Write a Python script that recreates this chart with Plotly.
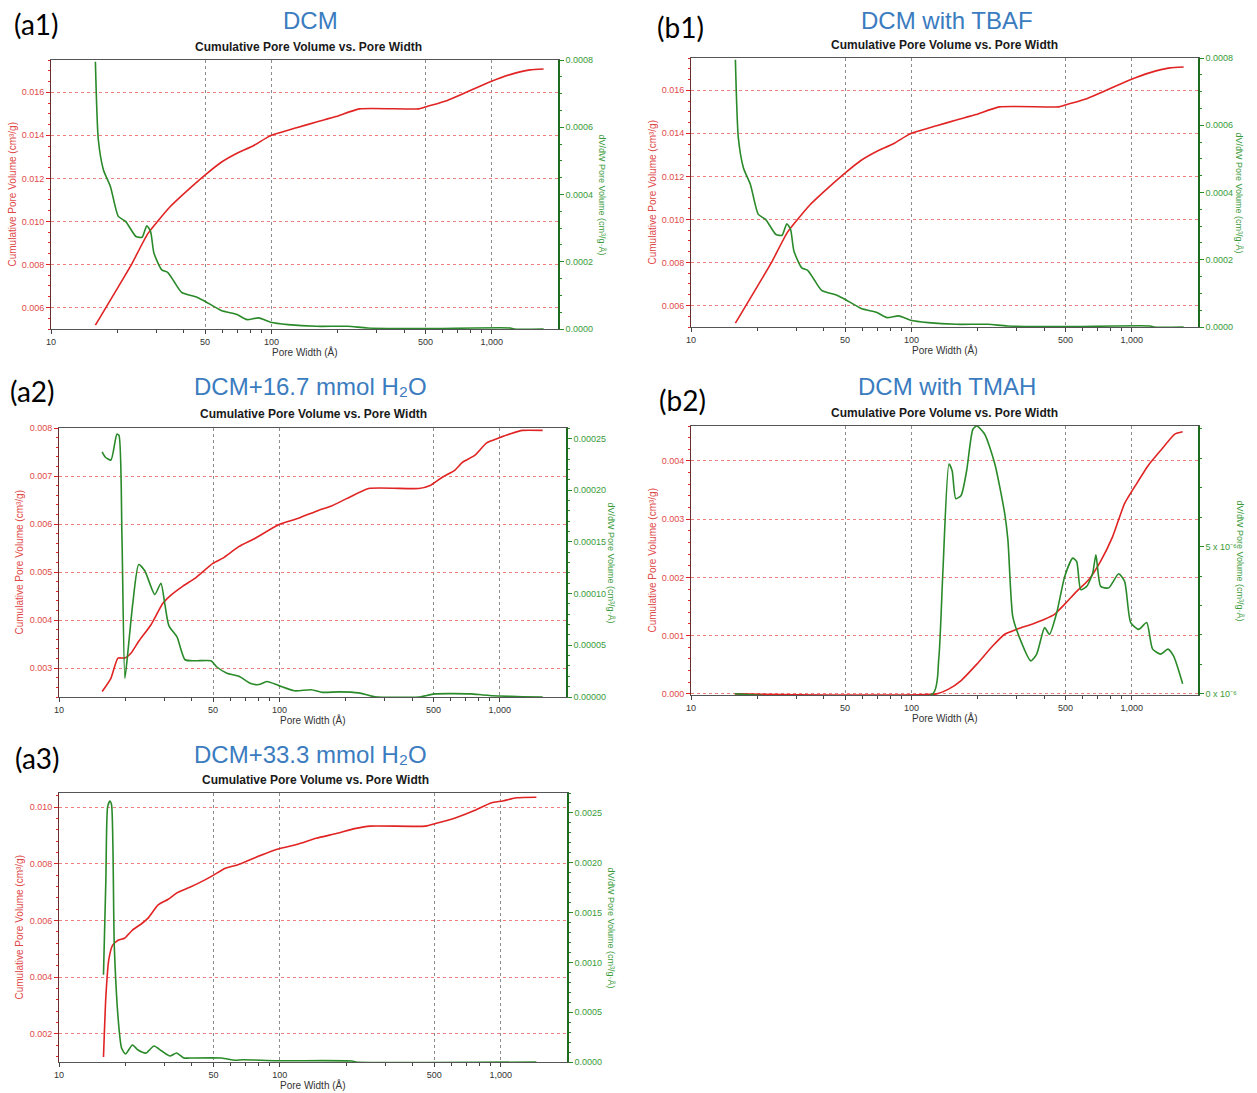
import plotly.graph_objects as go

# ---------------- data ----------------
x_tick_vals = [10, 50, 100, 500, 1000]
x_tick_text = ["10", "50", "100", "500", "1,000"]
x_minor_vals = [20, 30, 40, 60, 70, 80, 90, 200, 300, 400, 600, 700, 800, 900]

panel_titles = ["DCM", "DCM with TBAF", "DCM+16.7 mmol H₂O", "DCM with TMAH", "DCM+33.3 mmol H₂O"]
panel_labels = ["(a1)", "(b1)", "(a2)", "(b2)", "(a3)"]
subtitle = "Cumulative Pore Volume vs. Pore Width"
x_title = "Pore Width (Å)"
left_title = "Cumulative Pore Volume (cm³/g)"
right_title = "dV/dW Pore Volume (cm³/g·Å)"

# (a1) DCM
a1_red_w = [15.9, 20.2, 23.3, 27.5, 34.6, 40.8, 49.8, 59.2, 69.8, 82.4, 97.1, 105, 130, 160, 196, 251, 468, 508, 624, 767, 984, 1211, 1487, 1717]
a1_red_v = [0.00518, 0.00696, 0.00804, 0.00943, 0.01067, 0.01136, 0.01214, 0.01275, 0.01317, 0.0135, 0.01394, 0.01407, 0.01435, 0.01462, 0.01487, 0.01523, 0.01523, 0.01534, 0.01561, 0.0160, 0.01649, 0.01682, 0.01704, 0.01708]
a1_green_w = [15.9, 16.4, 17.3, 18.6, 20.2, 21.8, 24.3, 25.9, 27.2, 28.3, 29.3, 31.8, 33.9, 36.1, 39.1, 46.1, 50.1, 59.2, 69.8, 77.4, 87.7, 99.1, 119, 160, 222, 273, 488, 1210, 1260, 1717]
a1_green_v = [0.000795, 0.000562, 0.000473, 0.000424, 0.000335, 0.00032, 0.000275, 0.000273, 0.000307, 0.00029, 0.000226, 0.000176, 0.000168, 0.000142, 0.000109, 0.000094, 0.000082, 0.000055, 0.000043, 0.000028, 0.000033, 0.00002, 0.000013, 0.000008, 0.000008, 0.000003, 0.000001, 0.000003, 0.0, 0.0]

# (b1) DCM with TBAF
b1_red_w = [15.9, 20.2, 23.3, 27.5, 34.6, 40.8, 49.8, 59.2, 69.8, 82.4, 97.1, 105, 130, 160, 196, 251, 468, 508, 624, 767, 984, 1211, 1487, 1717]
b1_red_v = [0.00518, 0.00696, 0.00804, 0.00943, 0.01067, 0.01136, 0.01214, 0.01275, 0.01317, 0.0135, 0.01394, 0.01407, 0.01435, 0.01462, 0.01487, 0.01523, 0.01523, 0.01534, 0.01561, 0.0160, 0.01649, 0.01682, 0.01704, 0.01708]
b1_green_w = [15.9, 16.4, 17.3, 18.6, 20.2, 21.8, 24.3, 25.9, 27.2, 28.3, 29.3, 31.8, 33.9, 36.1, 39.1, 46.1, 50.1, 59.2, 69.8, 77.4, 87.7, 99.1, 119, 160, 222, 273, 488, 1210, 1260, 1717]
b1_green_v = [0.000795, 0.000562, 0.000473, 0.000424, 0.000335, 0.00032, 0.000275, 0.000273, 0.000307, 0.00029, 0.000226, 0.000176, 0.000168, 0.000142, 0.000109, 0.000094, 0.000082, 0.000055, 0.000043, 0.000028, 0.000033, 0.00002, 0.000013, 0.000008, 0.000008, 0.000003, 0.000001, 0.000003, 0.0, 0.0]

# (a2) DCM + 16.7 mmol H2O
a2_red_w = [15.7, 17.2, 18.5, 19.9, 21.2, 23.0, 26.1, 29.6, 32.2, 36.5, 41.4, 49.9, 55.4, 65.4, 77.3, 98.6, 122, 151, 171, 202, 254, 428, 486, 550, 624, 678, 769, 871, 988, 1119, 1268, 1563]
a2_red_v = [0.002515, 0.00279, 0.00321, 0.00321, 0.00331, 0.00356, 0.0039, 0.00435, 0.00452, 0.00471, 0.00487, 0.00518, 0.00529, 0.00553, 0.0057, 0.00598, 0.00612, 0.00629, 0.00637, 0.00653, 0.00674, 0.00674, 0.00681, 0.00698, 0.00712, 0.00729, 0.00743, 0.00769, 0.00779, 0.00788, 0.00795, 0.00795]
a2_green_w = [15.7, 16.2, 17.2, 18.3, 18.7, 19.3, 19.9, 20.5, 21.6, 23.0, 24.5, 27.2, 29.0, 30.2, 31.5, 34.3, 37.3, 41.4, 48.9, 52.0, 57.8, 65.5, 74.2, 80.7, 87.7, 99.4, 117, 139, 157, 186, 229, 270, 428, 506, 738, 836, 988, 1268, 1563]
a2_green_v = [0.000237, 0.000232, 0.000229, 0.000254, 0.000253, 0.000155, 0.000018, 0.000042, 0.00009, 0.000128, 0.000122, 0.000099, 0.00011, 0.00009, 0.000069, 0.000058, 0.000036, 0.000035, 0.000035, 0.000029, 0.000023, 0.00002, 0.000013, 0.000012, 0.000015, 0.000011, 0.000006, 0.000007, 0.0000045, 0.000005, 0.000004, 0.0000003, 0.0, 0.000003, 0.000003, 0.000002, 0.000001, 0.0000003, 0.0]

# (b2) DCM with TMAH
b2_red_w = [15.8, 130, 148, 168, 198, 234, 265, 301, 355, 402, 447, 496, 562, 637, 722, 818, 927, 1051, 1191, 1351, 1565, 1700]
b2_red_v = [0.0, 0.0, 0.000085, 0.000228, 0.00051, 0.000825, 0.001024, 0.00111, 0.0012, 0.00128, 0.00137, 0.00154, 0.00176, 0.00196, 0.00228, 0.0027, 0.00327, 0.00361, 0.00393, 0.00418, 0.00446, 0.0045]
b2_green_w = [15.8, 125, 133, 139, 148, 153, 159, 168, 178, 190, 198, 215, 239, 265, 274, 288, 307, 348, 370, 402, 423, 456, 496, 539, 562, 586, 624, 664, 687, 722, 785, 871, 927, 988, 1074, 1167, 1242, 1351, 1456, 1545, 1700]
b2_green_v = [0.0, 0.0, 1.18e-6, 4.21e-6, 7.81e-6, 7.58e-6, 6.63e-6, 6.74e-6, 7.58e-6, 8.99e-6, 9.1e-6, 8.82e-6, 7.81e-6, 6.12e-6, 5.22e-6, 2.64e-6, 1.97e-6, 1.12e-6, 1.35e-6, 2.25e-6, 2.02e-6, 2.75e-6, 3.99e-6, 4.61e-6, 4.49e-6, 3.54e-6, 3.65e-6, 4.1e-6, 4.72e-6, 3.65e-6, 3.6e-6, 4.08e-6, 3.82e-6, 2.42e-6, 2.19e-6, 2.42e-6, 1.52e-6, 1.35e-6, 1.52e-6, 1.29e-6, 0.34e-6]
b2_right_tick_vals = [0.0, 5e-6]
b2_right_tick_text = ["0 x 10⁻⁶", "5 x 10⁻⁶"]

# (a3) DCM + 33.3 mmol H2O
a3_red_w = [15.9, 16.3, 16.8, 17.5, 18.6, 19.8, 21.5, 23.8, 25.3, 28.1, 31.1, 34.5, 39.1, 44.2, 50.1, 56.6, 64.1, 75.7, 97, 119, 146, 180, 221, 256, 456, 506, 622, 765, 902, 1020, 1180, 1450]
a3_red_v = [0.001175, 0.003314, 0.00461, 0.00513, 0.00531, 0.00537, 0.00566, 0.0059, 0.00608, 0.00655, 0.00674, 0.00699, 0.00717, 0.00737, 0.0076, 0.00784, 0.00796, 0.00819, 0.00851, 0.00868, 0.0089, 0.00907, 0.00925, 0.00933, 0.00933, 0.00942, 0.00962, 0.00989, 0.01015, 0.01022, 0.01033, 0.01035]
a3_green_w = [15.9, 16.3, 16.6, 17.0, 17.3, 17.8, 18.6, 19.2, 20.0, 21.5, 22.8, 24.8, 26.9, 29.2, 31.8, 34.1, 36.7, 39.1, 54.3, 62.8, 68.2, 97, 212, 221, 1450]
a3_green_v = [0.000876, 0.00183, 0.00256, 0.00262, 0.00258, 0.00116, 0.00039, 0.00014, 0.00008, 0.00017, 0.00012, 0.00009, 0.00016, 0.00011, 0.00006, 0.00009, 0.00004, 0.00004, 0.00004, 0.000017, 0.000023, 0.000013, 0.00001, 0.0, 0.0]

# ---------------- layout / style ----------------
W, H = 1257, 1093
FONT = "Liberation Sans"
RED = "#e02424"
GREEN = "#2a8a2a"
RED_TXT = "#e04848"
GREEN_TXT = "#3a9a3a"

panels = [
    dict(red=(a1_red_w, a1_red_v), green=(a1_green_w, a1_green_v), box=(51, 558, 60, 329),
         lrange=[0.005, 0.0175], ldtick=0.002, lminor=0.0005, lfmt=".3f",
         rrange=[0, 0.0008], rdtick=0.0002, rminor=0.00005, rfmt=".4f",
         lab=(36, 24), tit=(310, 21), sub=(308, 47), lt_x=12, rt_x=601),
    dict(red=(b1_red_w, b1_red_v), green=(b1_green_w, b1_green_v), box=(691, 1198, 58, 327),
         lrange=[0.005, 0.0175], ldtick=0.002, lminor=0.0005, lfmt=".3f",
         rrange=[0, 0.0008], rdtick=0.0002, rminor=0.00005, rfmt=".4f",
         lab=(680, 27), tit=(947, 21), sub=(945, 45), lt_x=652, rt_x=1238),
    dict(red=(a2_red_w, a2_red_v), green=(a2_green_w, a2_green_v), box=(59, 566, 428, 697),
         lrange=[0.0024, 0.008], ldtick=0.001, lminor=0.0002, lfmt=".3f",
         rrange=[0, 0.00026], rdtick=0.00005, rminor=0.00001, rfmt=".5f",
         lab=(32, 391), tit=(310, 386), sub=(313, 414), lt_x=19, rt_x=611),
    dict(red=(b2_red_w, b2_red_v), green=(b2_green_w, b2_green_v), box=(691, 1198, 426, 695),
         lrange=[-0.00002, 0.0046], ldtick=0.001, lminor=0.0002, lfmt=".3f",
         rrange=[-0.04e-6, 9.1e-6], rdtick=None, rminor=1e-6, rfmt=None,
         lab=(682, 400), tit=(947, 386), sub=(945, 413), lt_x=652, rt_x=1240),
    dict(red=(a3_red_w, a3_red_v), green=(a3_green_w, a3_green_v), box=(59, 567, 793, 1062),
         lrange=[0.001, 0.0105], ldtick=0.002, lminor=0.0004, lfmt=".3f",
         rrange=[0, 0.0027], rdtick=0.0005, rminor=0.0001, rfmt=".4f",
         lab=(37, 758), tit=(310, 754), sub=(315, 780), lt_x=19, rt_x=611),
]

fig = go.Figure()
layout = dict(
    width=W, height=H, margin=dict(l=0, r=0, t=0, b=0),
    paper_bgcolor="white", plot_bgcolor="white", showlegend=False,
    template="none", font=dict(family=FONT, size=9, color="#333"),
)
annotations = []


def ann(text, x, y, size, color, angle=0, family=FONT, weight="normal"):
    annotations.append(dict(text=text, x=x / W, y=1 - y / H, xref="paper", yref="paper",
                            xanchor="center", yanchor="middle", showarrow=False,
                            textangle=angle,
                            font=dict(family=family, size=size, color=color, weight=weight)))


for i, p in enumerate(panels):
    xn = "" if i == 0 else str(i + 1)
    yl = 2 * i + 1
    yr = 2 * i + 2
    yln = "" if yl == 1 else str(yl)
    x0, x1, y0, y1 = p["box"]

    layout["xaxis" + xn] = dict(
        domain=[x0 / W, x1 / W], anchor="y" + yln, type="log", range=[1, 3.3],
        tickmode="array", tickvals=x_tick_vals, ticktext=x_tick_text,
        showgrid=True, gridcolor="#8c8c8c", griddash="dot", gridwidth=1,
        ticks="outside", ticklen=4, tickcolor="#444", tickwidth=1,
        showline=True, linecolor="#555", linewidth=1, mirror=True, layer="below traces",
        minor=dict(tickmode="array", tickvals=x_minor_vals, ticks="outside", ticklen=3,
                   tickcolor="#444", showgrid=False),
        tickfont=dict(family=FONT, size=9, color="#333"), zeroline=False, automargin=False,
    )
    layout["yaxis" + yln] = dict(
        domain=[1 - y1 / H, 1 - y0 / H], anchor="x" + xn, range=p["lrange"],
        tick0=0, dtick=p["ldtick"], tickformat=p["lfmt"],
        showgrid=True, gridcolor="#f08080", griddash="dot", gridwidth=1,
        ticks="outside", ticklen=4, tickcolor=RED, tickwidth=1,
        showline=True, linecolor="#6a3030", linewidth=1, layer="below traces",
        minor=dict(dtick=p["lminor"], tick0=0, ticks="outside", ticklen=2, tickcolor=RED, showgrid=False),
        tickfont=dict(family=FONT, size=9, color=RED_TXT), zeroline=False, automargin=False,
    )
    right = dict(
        overlaying="y" + yln, side="right", anchor="x" + xn, range=p["rrange"],
        showgrid=False, ticks="outside", ticklen=4, tickcolor=GREEN, tickwidth=1,
        showline=True, linecolor="#1e6b1e", linewidth=1.5, layer="below traces",
        minor=dict(dtick=p["rminor"], tick0=0, ticks="outside", ticklen=2, tickcolor=GREEN, showgrid=False),
        tickfont=dict(family=FONT, size=9, color=GREEN_TXT), zeroline=False, automargin=False,
    )
    if p["rdtick"] is None:
        right.update(tickmode="array", tickvals=b2_right_tick_vals, ticktext=b2_right_tick_text)
    else:
        right.update(tick0=0, dtick=p["rdtick"], tickformat=p["rfmt"])
    layout["yaxis" + str(yr)] = right

    fig.add_trace(go.Scatter(x=p["red"][0], y=p["red"][1], mode="lines",
                             line=dict(color=RED, width=1.6, shape="spline", smoothing=0.5),
                             xaxis="x" + xn, yaxis="y" + yln, hoverinfo="skip"))
    fig.add_trace(go.Scatter(x=p["green"][0], y=p["green"][1], mode="lines",
                             line=dict(color=GREEN, width=1.6, shape="spline", smoothing=0.6),
                             xaxis="x" + xn, yaxis="y" + str(yr), hoverinfo="skip"))

    cx = (x0 + x1) / 2
    cy = (y0 + y1) / 2
    ann(panel_labels[i], p["lab"][0], p["lab"][1], 28, "#000", family="Lato")
    ann(panel_titles[i], p["tit"][0], p["tit"][1], 24, "#3b7cc0")
    ann(subtitle, p["sub"][0], p["sub"][1], 12, "#1a1a1a", weight="bold")
    ann(x_title, cx, y1 + 23, 10, "#333")
    ann(left_title, p["lt_x"], cy, 10, RED_TXT, angle=-90)
    ann(right_title, p["rt_x"], cy, 9, GREEN_TXT, angle=90)

layout["annotations"] = annotations
fig.update_layout(**layout)
fig.write_html("out.html")
